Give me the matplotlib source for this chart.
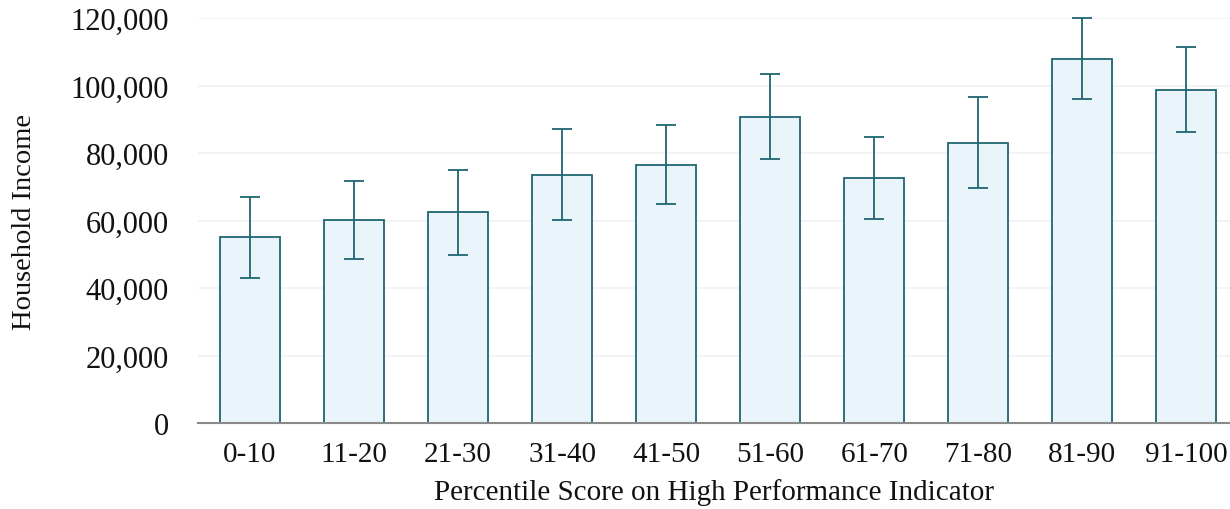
import numpy as np
import matplotlib
matplotlib.use('Agg')
import matplotlib.pyplot as plt
from matplotlib.ticker import FuncFormatter

# values
categories = ['0-10', '11-20', '21-30', '31-40', '41-50',
              '51-60', '61-70', '71-80', '81-90', '91-100']
income = [55000, 60200, 62400, 73600, 76500, 90700, 72600, 83100, 108000, 98800]
err = [12000, 11600, 12500, 13500, 11700, 12600, 12200, 13500, 12100, 12600]
y_ticks = [0, 20000, 40000, 60000, 80000, 100000, 120000]

BAR_FILL = '#eaf5fb'
BAR_EDGE = '#1f6672'

plt.rcParams['font.family'] = ['Liberation Serif', 'DejaVu Serif']

fig = plt.figure(figsize=(12.3, 5.1), dpi=100)
ax = fig.add_axes([198 / 1230, 1 - 424 / 510, 1 - 198 / 1230, (424 - 19) / 510])

x = np.arange(len(categories))
ax.bar(x, income, width=0.58, color=BAR_FILL, edgecolor=BAR_EDGE, linewidth=1.3, zorder=2)
ax.errorbar(x, income, yerr=err, fmt='none', ecolor=BAR_EDGE, elinewidth=1.3,
            capsize=7, capthick=1.3, zorder=3, clip_on=False)

ax.set_xlim(-0.5, 9.42)
ax.set_ylim(0, 120000)
ax.set_yticks(y_ticks)
ax.yaxis.set_major_formatter(FuncFormatter(lambda v, p: f'{int(v):,}'))
ax.set_xticks(x)
ax.set_xticklabels(categories)

ax.grid(axis='y', color='#eef2f2', linewidth=1.2, zorder=0)
ax.set_axisbelow(True)
for side in ['left', 'right', 'top']:
    ax.spines[side].set_visible(False)
ax.spines['bottom'].set_color('#8a8a8a')
ax.spines['bottom'].set_linewidth(1.5)
ax.spines['bottom'].set_zorder(4)

ax.tick_params(axis='y', length=0, pad=21, labelsize=22, labelcolor='#111111')
ax.tick_params(axis='x', length=0, pad=13, labelsize=21, labelcolor='#111111')

ax.set_xlabel('Percentile Score on High Performance Indicator', fontsize=21, color='#111111', labelpad=8)
ax.set_ylabel('Household Income', fontsize=20.5, color='#111111', labelpad=24)

fig.savefig('out.png', dpi=100)
